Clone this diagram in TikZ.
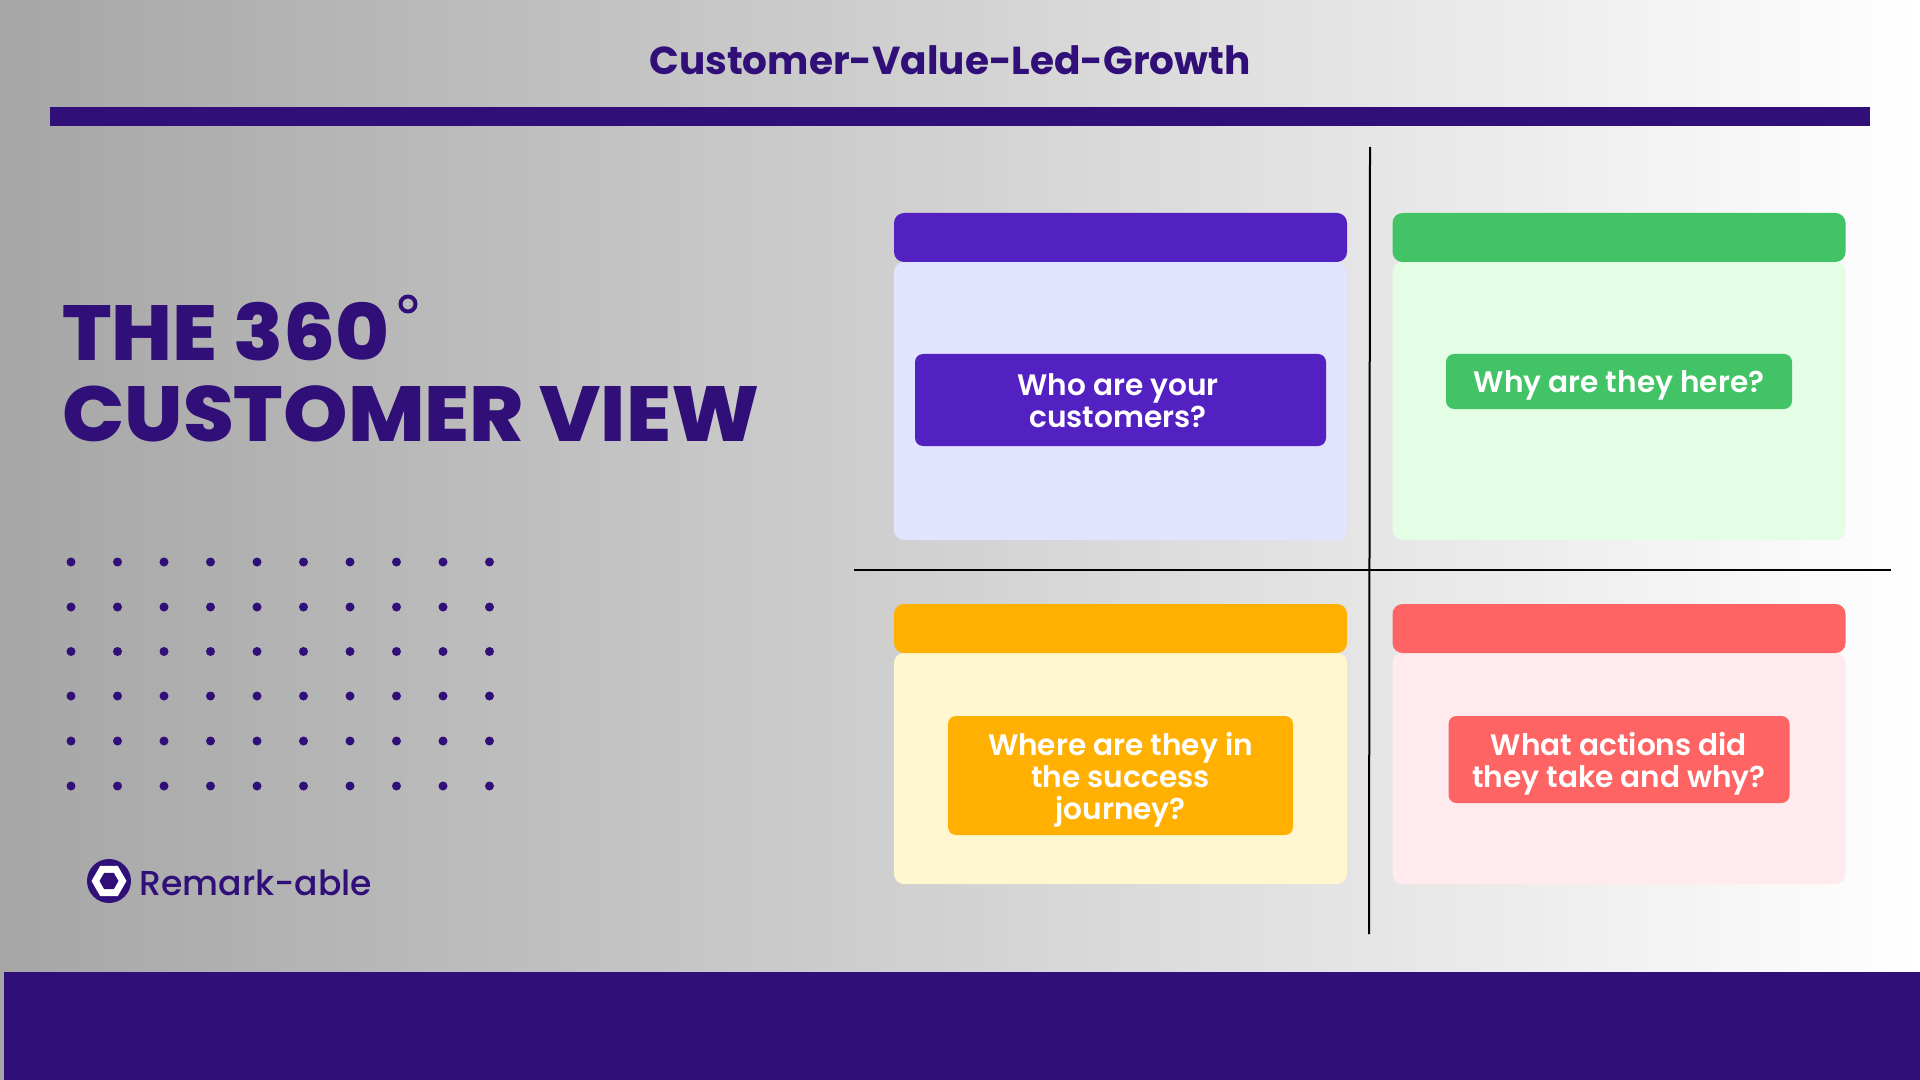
\documentclass[tikz,border=0pt]{standalone}
\usepackage{fontspec}
\setmainfont{Poppins}[UprightFont=* Medium,BoldFont=* SemiBold]
\newfontfamily\headfont{Poppins}[UprightFont=* Bold]
\newfontfamily\bigfont{Poppins}[UprightFont=* ExtraBold,FakeStretch=1.052]
\newfontfamily\logofont{Poppins}[UprightFont=* Medium]
\usetikzlibrary{shapes.geometric}
\definecolor{ink}{HTML}{300F78}
\definecolor{purp}{HTML}{5320C2}\definecolor{purpl}{HTML}{E2E3FE}
\definecolor{gren}{HTML}{42C466}\definecolor{grenl}{HTML}{E4FDE5}
\definecolor{yelw}{HTML}{FFB000}\definecolor{yelwl}{HTML}{FFF7CF}
\definecolor{redd}{HTML}{FF6464}\definecolor{reddl}{HTML}{FFEBED}
\tikzset{
  card/.style={rectangle,rounded corners=5pt,inner sep=0pt,minimum width=226.5pt},
  headbar/.style={card,minimum height=24.5pt},
  askbox/.style={rectangle,rounded corners=4pt,inner sep=0pt},
  ask/.style={inner sep=0pt,text=white,align=center,
    font=\fontsize{14.8}{16}\selectfont\bfseries},
  bigline/.style={anchor=base west,inner sep=0pt,text=ink,font=\bigfont\fontsize{39}{40}\selectfont},
  rule/.style={black,line width=1pt}
}
\begin{document}
\begin{tikzpicture}[x=0.5pt,y=-0.5pt]
\useasboundingbox (0,0) rectangle (1920,1080);
\shade[left color=black!35,right color=white] (0,0) rectangle (1920,1080);
\fill[ink] (4,972) rectangle (1920,1080);
\fill[ink] (50,107.5) rectangle (1870,126);
\node[inner sep=0pt,text=ink,font=\headfont\fontsize{19.5}{20}\selectfont] (title) at (950,60) {Customer-Value-Led-Growth};
\node[bigline] (h1) at (62,360) {THE 360};
\node[bigline] (h2) at (62,441) {CUSTOMER VIEW};
\draw[ink,line width=2pt] (408,304) circle (7.5);
\foreach \x in {0,...,9}\foreach \y in {562,607,651.5,696,741,786}
  \fill[ink] (71+46.5*\x,\y) circle (4.5);
% logo
\node[circle,fill=ink,minimum size=22pt,inner sep=0pt] (logo) at (109,881) {};
\node[regular polygon,regular polygon sides=6,fill=white,minimum size=17.5pt,inner sep=0pt] (hexo) at (logo) {};
\node[regular polygon,regular polygon sides=6,fill=ink,minimum size=9.5pt,inner sep=0pt] (hexi) at (logo) {};
\node[anchor=base west,inner sep=0pt,text=ink,font=\logofont\fontsize{17.3}{20}\selectfont] (brand) at (139,895) {Remark-able};
% rules
\coordinate (vt) at (1370,147);\coordinate (vb) at (1369,934);
\coordinate (hl) at (854,570);\coordinate (hr) at (1891,570);
\draw[rule] (vt) -- (vb);
\draw[rule] (hl) -- (hr);
% panels
\node[card,fill=purpl,minimum height=139pt] (p1) at (1120.5,401) {};
\node[headbar,fill=purp] (b1) at (1120.5,237.5) {};
\node[askbox,fill=purp,minimum width=205.5pt,minimum height=46pt] (q1) at (1120.5,400) {};
\node[ask] (t1) at (1118,400.5) {Who are your\\customers?};
\node[card,fill=grenl,minimum height=139pt] (p2) at (1619,401) {};
\node[headbar,fill=gren] (b2) at (1619,237.5) {};
\node[askbox,fill=gren,minimum width=173pt,minimum height=27.5pt] (q2) at (1619,381.5) {};
\node[ask] (t2) at (1619,385) {Why are they here?};
\node[card,fill=yelwl,minimum height=115.5pt] (p3) at (1120.5,768.5) {};
\node[headbar,fill=yelw] (b3) at (1120.5,628.5) {};
\node[askbox,fill=yelw,minimum width=172.5pt,minimum height=59.5pt] (q3) at (1120.5,775.5) {};
\node[ask] (t3) at (1120.5,780) {Where are they in\\the success\\journey?};
\node[card,fill=reddl,minimum height=115.5pt] (p4) at (1619,768.5) {};
\node[headbar,fill=redd] (b4) at (1619,628.5) {};
\node[askbox,fill=redd,minimum width=170.5pt,minimum height=43.5pt] (q4) at (1619,759.5) {};
\node[ask] (t4) at (1619,764) {What actions did\\they take and why?};
\end{tikzpicture}
\end{document}
